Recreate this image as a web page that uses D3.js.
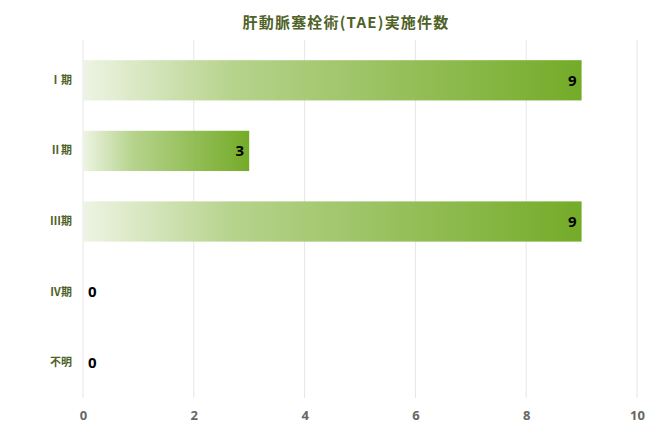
<!DOCTYPE html>
<html>
<head>
<meta charset="utf-8">
<script src="https://cdn.jsdelivr.net/npm/d3@7"></script>
<style>
  body { margin: 0; background: #fff; }
  text { font-family: "Noto Sans CJK JP", "Noto Sans", sans-serif; }
</style>
</head>
<body>
<div class="chart"></div>
<script>
var categories = ['Ⅰ期', 'Ⅱ期', 'Ⅲ期', 'Ⅳ期', '不明'];
var counts = [9, 3, 9, 0, 0];
var xTicks = [0, 2, 4, 6, 8, 10];
var title = '肝動脈塞栓術(TAE)実施件数';

var data = categories.map(function(c, i) { return {cat: c, val: counts[i]}; });

var fullWidth = 670;
var fullHeight = 437;
var margin = {top: 45, right: 33, bottom: 39, left: 83};
var width = fullWidth - margin.left - margin.right;
var height = fullHeight - margin.top - margin.bottom;

var svg = d3.select('.chart').append('svg')
  .attr('width', fullWidth)
  .attr('height', fullHeight);

var defs = svg.append('defs');
var grad = defs.append('linearGradient')
  .attr('id', 'barGrad')
  .attr('x1', '0%').attr('x2', '100%')
  .attr('y1', '0%').attr('y2', '0%');
grad.append('stop').attr('offset', '0%').attr('stop-color', '#eef4e4');
grad.append('stop').attr('offset', '30%').attr('stop-color', '#b6d38c');
grad.append('stop').attr('offset', '100%').attr('stop-color', '#74ab28');

svg.append('text')
  .attr('x', 346)
  .attr('y', 28)
  .attr('text-anchor', 'middle')
  .attr('fill', '#4f6228')
  .style('font-size', '15px')
  .style('font-weight', 'bold')
  .style('letter-spacing', '1.2px')
  .text(title);

var g = svg.append('g')
  .attr('transform', 'translate(' + margin.left + ',' + margin.top + ')');

var xScale = d3.scaleLinear()
  .domain([0, 10])
  .range([0, width]);

var yScale = d3.scaleBand()
  .domain(categories)
  .range([0, height])
  .paddingInner(0.43)
  .paddingOuter(0.215);

// grid lines
g.selectAll('line.grid')
  .data(xTicks)
  .enter().append('line')
    .attr('class', 'grid')
    .attr('x1', function(d) { return xScale(d); })
    .attr('x2', function(d) { return xScale(d); })
    .attr('y1', -5)
    .attr('y2', height)
    .attr('stroke', '#e6e6e6')
    .attr('stroke-width', 1);

var xAxis = d3.axisBottom(xScale)
  .tickValues(xTicks)
  .tickSize(0)
  .tickPadding(13);

var xAxisEle = g.append('g')
  .attr('transform', 'translate(0,' + height + ')')
  .call(xAxis);
xAxisEle.select('.domain').remove();
xAxisEle.selectAll('text')
  .attr('fill', '#666')
  .style('font-size', '13px')
  .style('font-weight', 'bold')
  .style('font-family', '"Noto Sans", sans-serif');

var yAxis = d3.axisLeft(yScale).tickSize(0).tickPadding(11);
var yAxisEle = g.append('g').call(yAxis);
yAxisEle.select('.domain').remove();
yAxisEle.selectAll('text')
  .attr('fill', '#4f6228')
  .style('font-size', '11px')
  .style('font-weight', 'bold');

g.selectAll('rect.bar')
    .data(data.filter(function(d) { return d.val > 0; }))
  .enter().append('rect')
    .attr('class', 'bar')
    .attr('x', xScale(0))
    .attr('y', function(d) { return yScale(d.cat); })
    .attr('width', function(d) { return xScale(d.val) - xScale(0); })
    .attr('height', yScale.bandwidth())
    .attr('fill', 'url(#barGrad)');

g.selectAll('text.val')
    .data(data)
  .enter().append('text')
    .attr('class', 'val')
    .attr('x', function(d) { return d.val > 0 ? xScale(d.val) - 5 : xScale(0) + 5; })
    .attr('y', function(d) { return yScale(d.cat) + yScale.bandwidth() / 2; })
    .attr('dy', '0.35em')
    .attr('text-anchor', function(d) { return d.val > 0 ? 'end' : 'start'; })
    .attr('fill', '#000')
    .style('font-size', '15px')
    .style('font-weight', 'bold')
    .style('font-family', '"Noto Sans", sans-serif')
    .text(function(d) { return d.val; });
</script>
</body>
</html>
